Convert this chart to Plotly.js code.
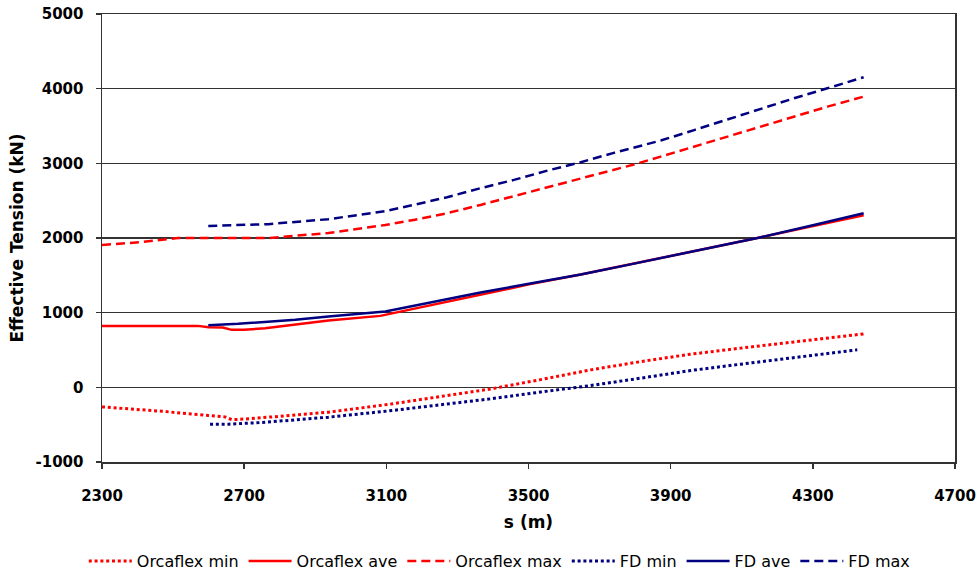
<!DOCTYPE html>
<html>
<head>
<meta charset="utf-8">
<script src="https://cdn.plot.ly/plotly-3.0.1.min.js"></script>
<style>html,body{margin:0;padding:0;background:#fff;}#chart{width:979px;height:575px;}</style>
</head>
<body>
<div id="chart"></div>
<script>
// Orcaflex min
var orcMinS = [2300, 2468, 2599, 2646, 2665, 2700, 2778, 2937, 3111, 3252, 3393, 3534, 3675, 3816, 3956, 4097, 4238, 4331, 4443];
var orcMinT = [-262, -320, -378, -396, -433, -425, -396, -333, -225, -125, -22, 103, 234, 345, 444, 525, 605, 649, 716];
// Orcaflex ave
var orcAveS = [2300, 2570, 2600, 2640, 2665, 2700, 2759, 2844, 2937, 3083, 3224, 3365, 3505, 3647, 3780, 3900, 4020, 4144, 4294, 4443];
var orcAveT = [823, 823, 806, 800, 770, 770, 792, 837, 894, 957, 1100, 1250, 1382, 1510, 1640, 1760, 1880, 2000, 2155, 2305];
// Orcaflex max
var orcMaxS = [2300, 2407, 2514, 2600, 2768, 2937, 3097, 3177, 3271, 3365, 3459, 3553, 3647, 3740, 3797, 3872, 3966, 4060, 4154, 4247, 4341, 4443];
var orcMaxT = [1906, 1943, 2000, 2000, 2000, 2067, 2174, 2242, 2332, 2443, 2560, 2675, 2790, 2905, 2985, 3090, 3224, 3360, 3495, 3625, 3759, 3893];
// FD min
var fdMinS = [2604, 2656, 2750, 2937, 3116, 3252, 3393, 3534, 3675, 3816, 3956, 4097, 4238, 4425];
var fdMinT = [-493, -493, -471, -400, -311, -234, -154, -63, 24, 123, 225, 310, 391, 502];
// FD ave
var fdAveS = [2599, 2683, 2844, 2937, 3097, 3224, 3365, 3505, 3647, 3780, 3900, 4020, 4144, 4294, 4443];
var fdAveT = [833, 850, 904, 950, 1015, 1140, 1270, 1390, 1510, 1640, 1760, 1880, 2000, 2165, 2331];
// FD max
var fdMaxS = [2599, 2768, 2937, 3097, 3177, 3271, 3365, 3459, 3553, 3647, 3740, 3872, 3966, 4060, 4154, 4247, 4341, 4443];
var fdMaxT = [2162, 2185, 2252, 2360, 2443, 2546, 2667, 2778, 2902, 3015, 3140, 3305, 3445, 3590, 3735, 3871, 4005, 4153];

var names = ["Orcaflex min", "Orcaflex ave", "Orcaflex max", "FD min", "FD ave", "FD max"];
var xTicks = [2300, 2700, 3100, 3500, 3900, 4300, 4700];
var yTicks = [-1000, 0, 1000, 2000, 3000, 4000, 5000];

var RED = "#ff0000", NAVY = "#000080";
var DOT = "3px,2.8px", DASH = "9px,5px";

function tr(s, t, name, color, dash, w) {
  return {x: s, y: t, name: name, type: "scatter", mode: "lines",
          line: {color: color, width: w, dash: dash}, hoverinfo: "skip"};
}
var data = [
  tr(orcMinS, orcMinT, names[0], RED, DOT, 3),
  tr(orcAveS, orcAveT, names[1], RED, "solid", 2.5),
  tr(orcMaxS, orcMaxT, names[2], RED, DASH, 2.5),
  tr(fdMinS, fdMinT, names[3], NAVY, DOT, 3),
  tr(fdAveS, fdAveT, names[4], NAVY, "solid", 2.5),
  tr(fdMaxS, fdMaxT, names[5], NAVY, DASH, 2.5)
];

var tickFont = {family: "DejaVu Sans", size: 15, color: "#000", weight: "bold"};
var layout = {
  width: 979, height: 575,
  margin: {l: 102, r: 24, t: 14, b: 113, pad: 0},
  paper_bgcolor: "#fff", plot_bgcolor: "#fff",
  showlegend: true,
  legend: {orientation: "h", xref: "container", yref: "container", x: 0.51, xanchor: "center",
           y: 0.0243, yanchor: "middle", font: {family: "DejaVu Sans", size: 16, color: "#000"},
           itemwidth: 43, bgcolor: "rgba(0,0,0,0)"},
  xaxis: {range: [2300, 4700], tickvals: xTicks, ticktext: xTicks.map(String),
          ticks: "outside", ticklen: 5, tickwidth: 1.5, tickcolor: "#333",
          showline: true, linecolor: "#333", linewidth: 1.5, mirror: true,
          showgrid: false, zeroline: false, tickfont: tickFont, ticklabelstandoff: 14,
          automargin: false,
          title: {text: "s (m)", font: {family: "DejaVu Sans", size: 17, color: "#000", weight: "bold"}, standoff: 12}},
  yaxis: {range: [-1000, 5000], tickvals: yTicks, ticktext: yTicks.map(String),
          ticks: "outside", ticklen: 5, tickwidth: 1.5, tickcolor: "#333",
          showline: true, linecolor: "#333", linewidth: 1.5, mirror: true,
          showgrid: true, gridcolor: "#333", gridwidth: 1.5, zeroline: false,
          tickfont: tickFont, ticklabelstandoff: 9, automargin: false,
          title: {text: "Effective Tension (kN)", font: {family: "DejaVu Sans", size: 17, color: "#000", weight: "bold"}, standoff: 7}}
};
Plotly.newPlot("chart", data, layout, {displayModeBar: false, staticPlot: true});
</script>
</body>
</html>
